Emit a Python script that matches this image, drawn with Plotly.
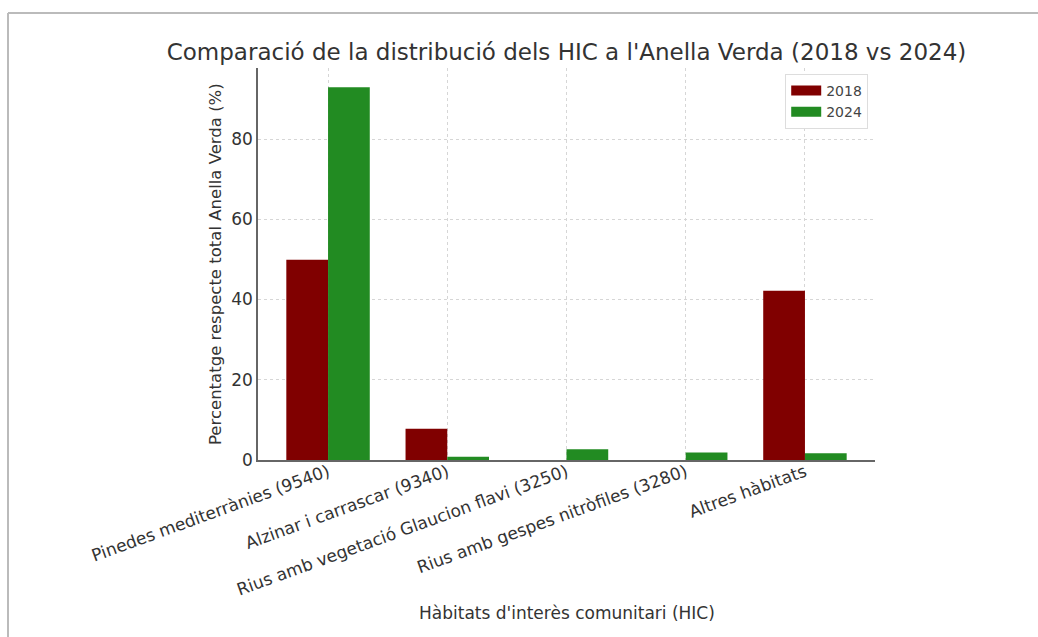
import plotly.graph_objects as go

# Habitat categories (HIC codes) and share of the Anella Verda area, in %
habitats = [
    "Pinedes mediterrànies (9540)",
    "Alzinar i carrascar (9340)",
    "Rius amb vegetació Glaucion flavi (3250)",
    "Rius amb gespes nitròfiles (3280)",
    "Altres hàbitats",
]
pct_2018 = [49.9, 7.8, 0.0, 0.0, 42.2]
pct_2024 = [92.9, 0.8, 2.7, 1.9, 1.7]
years = ["2018", "2024"]
colors = ["#800000", "#228B22"]
y_ticks = [0, 20, 40, 60, 80]

FONT = "DejaVu Sans"
TEXT = "#333333"
AXIS = "#666666"
GRID = "#d6d6d6"

fig = go.Figure()
for name, vals, col in zip(years, [pct_2018, pct_2024], colors):
    fig.add_trace(go.Bar(x=habitats, y=vals, name=name, marker_color=col,
                         marker_line_width=0, showlegend=False))
# Legend entries drawn as wide colour patches
for name, col in zip(years, colors):
    fig.add_trace(go.Scatter(x=[None], y=[None], mode="lines", name=name,
                             line=dict(color=col, width=11), showlegend=True))

fig.update_layout(
    width=1038, height=637,
    margin=dict(l=258, r=163, t=68, b=177),
    paper_bgcolor="white", plot_bgcolor="white",
    barmode="group", bargap=0.3, bargroupgap=0,
    font=dict(family=FONT, color=TEXT, size=15),
    title=dict(text="Comparació de la distribució dels HIC a l'Anella Verda (2018 vs 2024)",
               x=(258 + 875) / 2 / 1038, xanchor="center",
               y=1 - 52 / 637, yanchor="middle",
               font=dict(family=FONT, size=23, color=TEXT)),
    legend=dict(x=0.989, y=0.985, xanchor="right", yanchor="top",
                bgcolor="white", bordercolor="#dddddd", borderwidth=1,
                font=dict(family=FONT, size=14, color="#444444"),
                tracegroupgap=2),
)

fig.update_xaxes(
    type="category", range=[-0.5875, 4.5875],
    showline=True, linecolor=AXIS, linewidth=1.5, mirror=False,
    showgrid=True, gridcolor=GRID, griddash="3px,3px", gridwidth=1,
    ticks="", tickangle=-20, ticklabelstandoff=-6,
    tickfont=dict(family=FONT, size=17, color=TEXT),
)
fig.update_yaxes(
    range=[0, 97.7], tickvals=y_ticks,
    showline=True, linecolor=AXIS, linewidth=1.5, mirror=False,
    showgrid=True, gridcolor=GRID, griddash="3px,3px", gridwidth=1,
    ticks="", zeroline=False,
    tickfont=dict(family=FONT, size=17, color=TEXT),
)

# Axis titles
fig.add_annotation(text="Hàbitats d'interès comunitari (HIC)", xref="paper", yref="paper",
                   x=0.5, y=-(613 - 460) / 392, xanchor="center", yanchor="middle",
                   showarrow=False, font=dict(family=FONT, size=17, color=TEXT))
fig.add_annotation(text="Percentatge respecte total Anella Verda (%)", xref="paper", yref="paper",
                   x=-(258 - 215) / 617, y=0.5, xanchor="center", yanchor="middle",
                   textangle=-90, showarrow=False, font=dict(family=FONT, size=16.5, color=TEXT))

# Frame lines along the top and left edges of the page
fig.add_shape(type="line", xref="paper", yref="paper",
              x0=(8 - 258) / 617, x1=(1038 - 258) / 617,
              y0=(460 - 13) / 392, y1=(460 - 13) / 392,
              line=dict(color="#bbbbbb", width=2))
fig.add_shape(type="line", xref="paper", yref="paper",
              x0=(8 - 258) / 617, x1=(8 - 258) / 617,
              y0=(460 - 13) / 392, y1=(460 - 637) / 392,
              line=dict(color="#bbbbbb", width=2))

fig.write_html("out.html")
